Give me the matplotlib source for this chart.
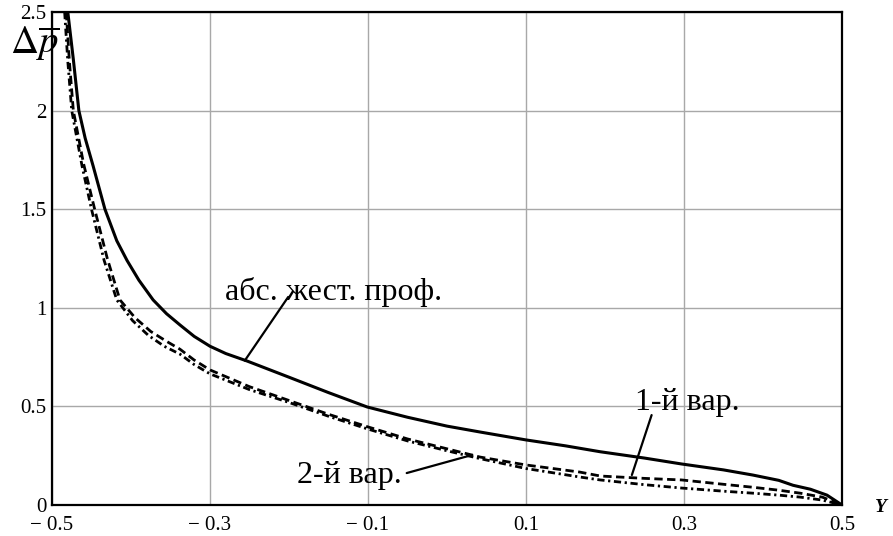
import matplotlib.pyplot as plt

plt.rcParams['font.family'] = ['Liberation Serif', 'DejaVu Serif']
plt.rcParams['mathtext.fontset'] = 'stix'

# absolutely rigid profile
x_rigid = [-0.480, -0.473, -0.466, -0.458, -0.448, -0.433, -0.418, -0.405, -0.390,
           -0.372, -0.355, -0.338, -0.320, -0.300, -0.280, -0.253, -0.200, -0.150,
           -0.101, -0.050, 0.000, 0.042, 0.100, 0.150, 0.194, 0.250, 0.297, 0.350,
           0.387, 0.420, 0.438, 0.460, 0.481, 0.500]
y_rigid = [2.50, 2.26, 2.00, 1.86, 1.72, 1.50, 1.34, 1.24, 1.14,
           1.04, 0.97, 0.913, 0.855, 0.805, 0.768, 0.730, 0.648, 0.570,
           0.497, 0.445, 0.400, 0.370, 0.330, 0.300, 0.270, 0.238, 0.208, 0.178,
           0.152, 0.125, 0.100, 0.080, 0.050, 0.000]

# variant 1
x_var1 = [-0.482, -0.478, -0.473, -0.460, -0.446, -0.430, -0.414, -0.395, -0.375,
          -0.355, -0.338, -0.320, -0.300, -0.250, -0.200, -0.150, -0.100, -0.050,
          0.000, 0.042, 0.100, 0.168, 0.194, 0.250, 0.297, 0.350, 0.387, 0.420,
          0.447, 0.475, 0.500]
y_var1 = [2.50, 2.25, 2.00, 1.73, 1.50, 1.25, 1.04, 0.950, 0.880,
          0.830, 0.790, 0.735, 0.685, 0.600, 0.530, 0.460, 0.396, 0.335,
          0.285, 0.243, 0.203, 0.167, 0.147, 0.135, 0.127, 0.105, 0.090, 0.075,
          0.060, 0.040, 0.000]

# variant 2
x_var2 = [-0.484, -0.480, -0.475, -0.462, -0.450, -0.434, -0.418, -0.398, -0.378,
          -0.358, -0.338, -0.320, -0.300, -0.250, -0.200, -0.150, -0.100, -0.050,
          0.000, 0.042, 0.100, 0.168, 0.194, 0.250, 0.297, 0.350, 0.387, 0.420,
          0.447, 0.475, 0.500]
y_var2 = [2.50, 2.25, 2.00, 1.72, 1.50, 1.24, 1.04, 0.935, 0.860,
          0.805, 0.765, 0.712, 0.665, 0.585, 0.520, 0.450, 0.385, 0.325,
          0.275, 0.235, 0.185, 0.142, 0.127, 0.103, 0.086, 0.070, 0.060, 0.050,
          0.040, 0.025, 0.000]

x_ticks = [-0.5, -0.3, -0.1, 0.1, 0.3, 0.5]
x_tick_labels = ['\u2212 0.5', '\u2212 0.3', '\u2212 0.1', '0.1', '0.3', '0.5']
y_ticks = [0, 0.5, 1, 1.5, 2, 2.5]
y_tick_labels = ['0', '0.5', '1', '1.5', '2', '2.5']

fig = plt.figure(figsize=(8.93, 5.36), dpi=100)
ax = fig.add_axes([52 / 893, 1 - 505 / 536, 790 / 893, 493 / 536])

ax.plot(x_rigid, y_rigid, color='black', lw=2.2, solid_joinstyle='round')
ax.plot(x_var1, y_var1, color='black', lw=2.0, dashes=(3.0, 1.6))
ax.plot(x_var2, y_var2, color='black', lw=2.0, dashes=(2.6, 1.3, 0.8, 1.3))

ax.set_xlim(-0.5, 0.5)
ax.set_ylim(0, 2.5)
ax.set_xticks(x_ticks)
ax.set_xticklabels(x_tick_labels)
ax.set_yticks(y_ticks)
ax.set_yticklabels(y_tick_labels)
ax.tick_params(length=0, labelsize=15, pad=4)
ax.tick_params(axis='x', pad=8)
ax.grid(True, color='#a8a8a8', lw=1.0)
ax.set_axisbelow(True)
for sp in ax.spines.values():
    sp.set_linewidth(1.6)
    sp.set_color('black')

# curve labels with leader lines
leader = dict(arrowstyle='-', color='black', lw=1.6, shrinkA=0, shrinkB=0)

ax.text(-0.281, 1.04, 'абс. жест. проф.', fontsize=23, ha='left', va='baseline')
ax.annotate('', xy=(-0.256, 0.732), xytext=(-0.201, 1.055), arrowprops=leader)

ax.text(0.238, 0.482, '1-й вар.', fontsize=23, ha='left', va='baseline')
ax.annotate('', xy=(0.234, 0.152), xytext=(0.259, 0.456), arrowprops=leader)

ax.text(-0.190, 0.112, '2-й вар.', fontsize=23, ha='left', va='baseline')
ax.annotate('', xy=(0.032, 0.254), xytext=(-0.051, 0.162), arrowprops=leader)

fig.text(10 / 893, 1 - 44 / 536, r'$\Delta\overline{p}$', fontsize=28,
         ha='left', va='center')
fig.text(881 / 893, 1 - 507 / 536, 'Υ', fontsize=14, fontweight='bold',
         fontstyle='italic', ha='center', va='center')

fig.savefig('out.png', dpi=100)
